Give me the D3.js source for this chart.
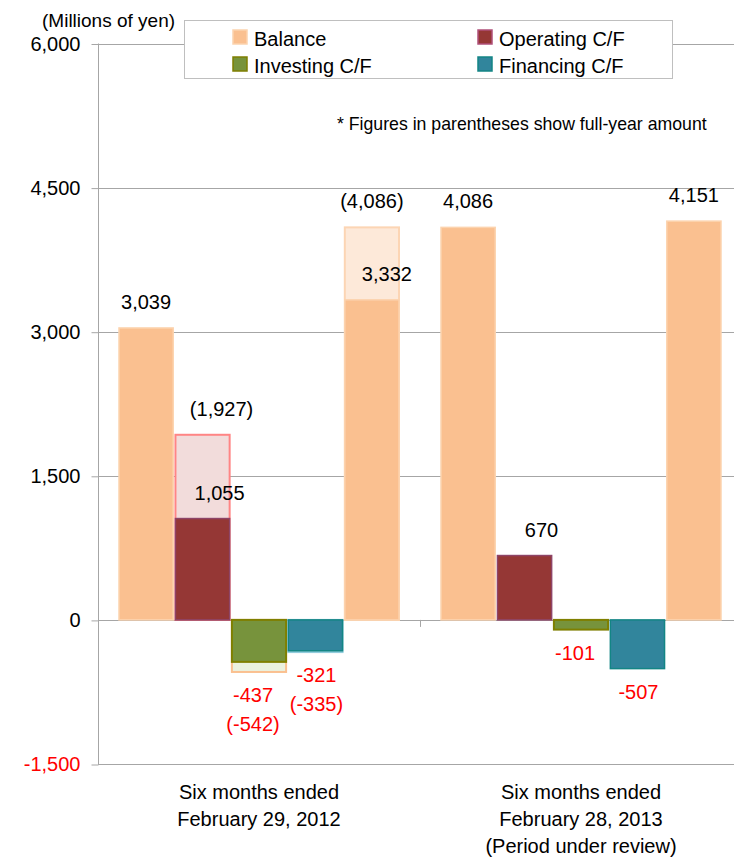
<!DOCTYPE html>
<html lang="en">
	<head>
		<meta charset="utf-8">
		<title>Cash flows</title>
		<script type="text/javascript" src="https://cdn.jsdelivr.net/npm/d3@7"></script>
		<style type="text/css">
			body { margin: 0; background: #fff; }
			text { font-family: "Liberation Sans", Arial, sans-serif; fill: #000; }
		</style>
	</head>
	<body>
		<script type="text/javascript">

			//Width and height
			var w = 734;
			var h = 860;

			var categories = [
				["Six months ended", "February 29, 2012"],
				["Six months ended", "February 28, 2013", "(Period under review)"]
			];
			var series = ["Balance", "Operating C/F", "Investing C/F", "Financing C/F"];
			// five bars per period: opening balance, three flows, closing balance
			var slotSeries = [0, 1, 2, 3, 0];
			var halfYear = [
				[3039, 1055, -437, -321, 3332],
				[4086, 670, -101, -507, 4151]
			];
			var fullYear = [
				[null, 1927, -542, -335, 4086],
				[null, null, null, null, null]
			];
			var yTicks = [-1500, 0, 1500, 3000, 4500, 6000];

			var fills = ["#fac090", "#953735", "#77933c", "#31859c"];
			var strokes = ["#fcd3ae", "#8e4467", "#7f7f00", "#138585"];
			var ghostFills = ["#fde9d9", "#f2dcdb", "#ebf1de", "#dbeef4"];
			var ghostStrokes = ["#fcd5b4", "#ff8585", "#fac090", "#93cddd"];

			// plain hyphen for negatives, as in the original
			var fmt = d3.formatLocale({ decimal: ".", thousands: ",", grouping: [3], currency: ["", ""], minus: "-" }).format(",");

			var x0 = d3.scaleBand()
						.domain(d3.range(categories.length))
						.range([98, 742]);

			var x1 = d3.scaleBand()
						.domain(d3.range(slotSeries.length))
						.range([21, 301])
						.paddingInner(0.04);

			var yScale = d3.scaleLinear()
							.domain([-1500, 6000])
							.range([764, 43.5]);

			var svg = d3.select("body")
						.append("svg")
						.attr("width", w)
						.attr("height", h);

			//Gridlines
			svg.selectAll("line.grid")
			   .data(yTicks)
			   .enter()
			   .append("line")
			   .attr("class", "grid")
			   .attr("x1", 98)
			   .attr("x2", w)
			   .attr("y1", function(d) { return Math.round(yScale(d)) + 0.5; })
			   .attr("y2", function(d) { return Math.round(yScale(d)) + 0.5; })
			   .attr("stroke", "#a6a6a6")
			   .attr("stroke-width", 1);

			//Y axis
			var yAxis = d3.axisLeft(yScale)
						  .tickValues(yTicks)
						  .tickSize(7)
						  .tickPadding(11)
						  .tickFormat(fmt);

			var gy = svg.append("g")
						.attr("transform", "translate(98.5,0.5)")
						.call(yAxis);
			gy.select(".domain").remove();
			gy.selectAll(".tick line").attr("stroke", "#a6a6a6");
			gy.selectAll(".tick text")
			  .attr("font-size", "20px")
			  .attr("font-family", "'Liberation Sans', Arial, sans-serif")
			  .style("fill", function(d) { return d < 0 ? "#ff0000" : "#000"; });

			svg.append("line")
			   .attr("x1", 98.5).attr("x2", 98.5)
			   .attr("y1", yScale(6000)).attr("y2", yScale(-1500) + 1)
			   .attr("stroke", "#a6a6a6");

			//Category separator ticks on the zero line
			svg.selectAll("line.sep")
			   .data(d3.range(categories.length + 1))
			   .enter()
			   .append("line")
			   .attr("class", "sep")
			   .attr("x1", function(i) { return Math.round(x0.range()[0] + i * x0.step()) + 0.5; })
			   .attr("x2", function(i) { return Math.round(x0.range()[0] + i * x0.step()) + 0.5; })
			   .attr("y1", yScale(0))
			   .attr("y2", yScale(0) + 7)
			   .attr("stroke", "#a6a6a6");

			//Build bar records
			var bars = [];
			halfYear.forEach(function(vals, c) {
				vals.forEach(function(v, s) {
					bars.push({ c: c, s: s, ser: slotSeries[s], v: v, full: fullYear[c][s] });
				});
			});

			function bx(d) { return x0(d.c) + x1(d.s); }
			function barTop(v) { return yScale(Math.max(0, v)); }
			function barH(v) { return Math.abs(yScale(v) - yScale(0)); }

			//Full-year bars behind
			svg.selectAll("rect.ghost")
			   .data(bars.filter(function(d) { return d.full !== null; }))
			   .enter()
			   .append("rect")
			   .attr("class", "ghost")
			   .attr("x", bx)
			   .attr("y", function(d) { return barTop(d.full); })
			   .attr("width", x1.bandwidth())
			   .attr("height", function(d) { return barH(d.full); })
			   .attr("fill", function(d) { return ghostFills[d.ser]; })
			   .attr("stroke", function(d) { return ghostStrokes[d.ser]; })
			   .attr("stroke-width", 2);

			//Half-year bars
			svg.selectAll("rect.bar")
			   .data(bars)
			   .enter()
			   .append("rect")
			   .attr("class", "bar")
			   .attr("x", bx)
			   .attr("y", function(d) { return barTop(d.v); })
			   .attr("width", x1.bandwidth())
			   .attr("height", function(d) { return barH(d.v); })
			   .attr("fill", function(d) { return fills[d.ser]; })
			   .attr("stroke", function(d) { return strokes[d.ser]; })
			   .attr("stroke-width", function(d) { return d.ser === 2 ? 2 : 1.5; });

			//Value labels
			bars.forEach(function(d) {
				var cx = bx(d) + x1.bandwidth() / 2;
				var shift = (d.full !== null && d.v > 0 && d.c === 0) ? 15 : 0;
				if (d.v >= 0) {
					svg.append("text")
					   .attr("x", cx + (d.ser === 1 ? 17 : shift))
					   .attr("y", barTop(d.v) - 19)
					   .attr("text-anchor", "middle")
					   .attr("font-size", "20px")
					   .text(fmt(d.v));
					if (d.full !== null) {
						svg.append("text")
						   .attr("x", cx + (d.ser === 1 ? 19 : 0))
						   .attr("y", barTop(d.full) - 19)
						   .attr("text-anchor", "middle")
						   .attr("font-size", "20px")
						   .text("(" + fmt(d.full) + ")");
					}
				} else {
					var low = d.full !== null ? Math.min(d.v, d.full) : d.v;
					var base = yScale(low) + 30;
					var lx = cx + (d.ser === 2 ? -6 : 1);
					var t = svg.append("text")
							   .attr("x", lx)
							   .attr("y", base)
							   .attr("text-anchor", "middle")
							   .attr("font-size", "20px")
							   .style("fill", "#ff0000");
					t.append("tspan").attr("x", lx).text(fmt(d.v));
					if (d.full !== null) {
						t.append("tspan").attr("x", lx).attr("dy", 29).text("(" + fmt(d.full) + ")");
					}
				}
			});

			//Category labels
			categories.forEach(function(lines, c) {
				var cx = x0(c) + 21 + 140;
				lines.forEach(function(line, i) {
					svg.append("text")
					   .attr("x", cx)
					   .attr("y", 799 + i * 27)
					   .attr("text-anchor", "middle")
					   .attr("font-size", "20px")
					   .text(line);
				});
			});

			//Unit label
			svg.append("text")
			   .attr("x", 42)
			   .attr("y", 27)
			   .attr("font-size", "19px")
			   .text("(Millions of yen)");

			//Footnote
			svg.append("text")
			   .attr("x", 337)
			   .attr("y", 130)
			   .attr("font-size", "17.7px")
			   .text("* Figures in parentheses show full-year amount");

			//Legend
			var legend = svg.append("g");
			legend.append("rect")
				  .attr("x", 184.5).attr("y", 20.5)
				  .attr("width", 488).attr("height", 58)
				  .attr("fill", "#fff")
				  .attr("stroke", "#bfbfbf");

			var items = legend.selectAll("g.item")
							  .data(series)
							  .enter()
							  .append("g")
							  .attr("class", "item")
							  .attr("transform", function(d, i) {
							  	return "translate(" + (i % 2 === 0 ? 233 : 478) + "," + (i < 2 ? 30 : 57) + ")";
							  });
			items.append("rect")
				 .attr("width", 14).attr("height", 14)
				 .attr("fill", function(d, i) { return fills[i]; })
				 .attr("stroke", function(d, i) { return i === 0 ? "#fcd3ae" : i === 1 ? "#b0507a" : strokes[i]; })
				 .attr("stroke-width", 1.5);
			items.append("text")
				 .attr("x", 21)
				 .attr("y", 15.5)
				 .attr("font-size", "20px")
				 .text(function(d) { return d; });

		</script>
	</body>
</html>
